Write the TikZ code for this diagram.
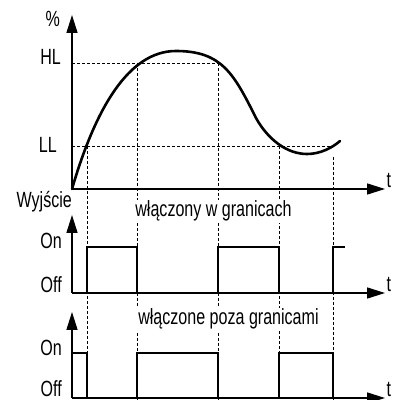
\documentclass[tikz,border=0pt]{standalone}
\usepackage{fontspec}
\setmainfont{Liberation Sans}[FakeStretch=0.73]
\usetikzlibrary{arrows.meta}

\begin{document}
\begin{tikzpicture}[x=1pt, y=1pt,
    axis/.style={line width=1.6pt, -{Triangle[length=18pt, width=11pt]}},
    guide/.style={line width=0.8pt, dash pattern=on 3pt off 2pt},
    signal/.style={line width=2.2pt},
    lbl/.style={font=\fontsize{22}{22}\selectfont, inner sep=1pt}]
  \useasboundingbox (0,0) rectangle (393,400);
  \def\xo{72}
  \def\xend{385}
  \def\hl{337}
  \def\ll{254}

  % axes: top graph and the two outputs
  \foreach \base/\top/\name/\tb in {211/385/proc/212, 107/185/outa/108, 2/88/outb/4} {
    \coordinate (\name o) at (\xo,\base);
    \draw[axis] (\name o) -- (\xo,\top);
    \draw[axis] (\name o) -- (\xend,\base);
    \node[lbl, anchor=base west, inner sep=0pt] (\name t) at (386.5,\tb) {t};
  }

  % limits
  \draw[guide] (\xo,\hl) -- (218,\hl);
  \draw[guide] (\xo,\ll) -- (333,\ll);
  \foreach \x/\y in {87/\ll, 137/\hl, 218/\hl, 279/\ll, 333/243}
    \draw[guide] (\x,\y) -- (\x,0);

  % measured value
  \draw[line width=2.6pt, line cap=round] (proco)
    .. controls (95,290) and (128,349) .. (176,349)
    .. controls (222,349) and (234,326) .. (256,282)
    .. controls (268,260.4) and (287,246) .. (307,246)
    .. controls (320,246) and (332,252) .. (340,259);

  % output inside limits
  \draw[signal] (87,107) -- (87,153) -- (137,153) -- (137,107);
  \draw[signal] (218,107) -- (218,153) -- (279,153) -- (279,107);
  \draw[signal] (333,107) -- (333,153) -- (345,153);

  % output outside limits
  \draw[signal] (\xo,47) -- (87,47) -- (87,2);
  \draw[signal] (137,2) -- (137,47) -- (218,47) -- (218,2);
  \draw[signal] (279,2) -- (279,47) -- (333,47) -- (333,2);

  % labels
  \node[lbl, anchor=base east] (pct) at (61,373) {\%};
  \node[lbl, anchor=base east] (hl) at (62,335) {HL};
  \node[lbl, anchor=base east] (ll) at (58,247) {LL};
  \node[lbl, anchor=base east] (wy) at (73,192) {Wyjście};
  \node[lbl, anchor=base east] (ona) at (63,151) {On};
  \node[lbl, anchor=base east] (offa) at (63,107) {Off};
  \node[lbl, anchor=base east] (onb) at (63,45) {On};
  \node[lbl, anchor=base east] (offb) at (63,4) {Off};
  \node[lbl, anchor=base, fill=white] (inlim) at (213.5,183) {włączony w granicach};
  \node[lbl, anchor=base, fill=white] (outlim) at (228.5,75) {włączone poza granicami};
\end{tikzpicture}
\end{document}
